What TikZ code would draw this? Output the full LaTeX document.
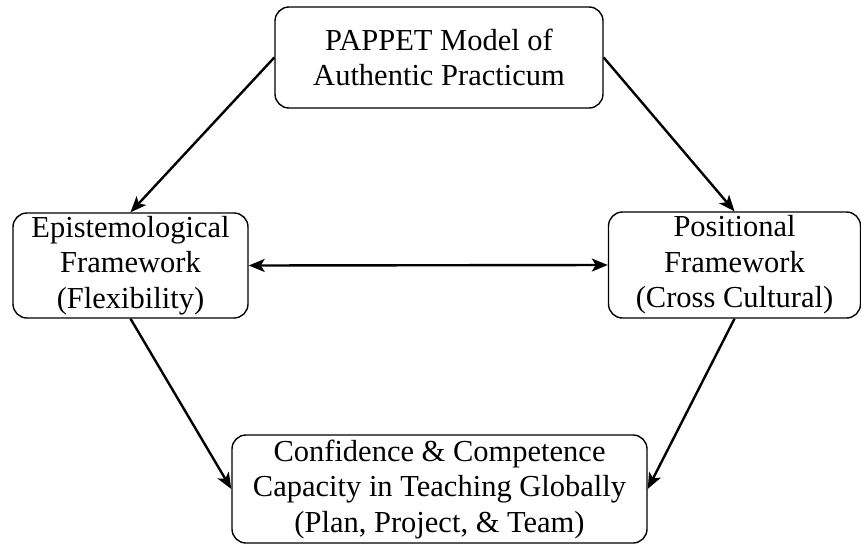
\documentclass[tikz,border=0pt]{standalone}
\usepackage{fontspec}
\setmainfont{Liberation Serif}
\usetikzlibrary{arrows.meta}
\begin{document}
\begin{tikzpicture}[x=1pt,y=-1pt,
  box/.style={draw, line width=1.4pt, rounded corners=14pt, align=center,
    inner sep=0pt, font=\fontsize{30.5}{35.5}\selectfont},
  tip/.tip={Stealth[length=16pt,width=13pt,inset=4pt]},
  link/.style={line width=2.4pt, -tip},
  biglink/.style={line width=2.4pt, tip-tip}]
  \useasboundingbox (0,0) rectangle (861,544);
  % the four boxes
  \node[box, minimum width=328pt, minimum height=101pt] (model) at (439,57.5)
    {PAPPET Model of\\Authentic Practicum};
  \node[box, minimum width=235pt, minimum height=105pt] (epist) at (130.5,265.5)
    {Epistemological\\Framework\\(Flexibility)};
  \node[box, minimum width=252pt, minimum height=106pt] (posit) at (734.5,265)
    {Positional\\Framework\\(Cross Cultural)};
  \node[box, minimum width=415pt, minimum height=108pt] (conf) at (439.5,489)
    {Confidence \& Competence\\Capacity in Teaching Globally\\(Plan, Project, \& Team)};
  % connectors
  \draw[link] (model.west) -- (epist.north);
  \draw[link] (model.east) -- (posit.north);
  \draw[biglink] (epist.east) -- (posit.west);
  \draw[link] (epist.south) -- (conf.west);
  \draw[link] (posit.south) -- (conf.east);
\end{tikzpicture}
\end{document}
